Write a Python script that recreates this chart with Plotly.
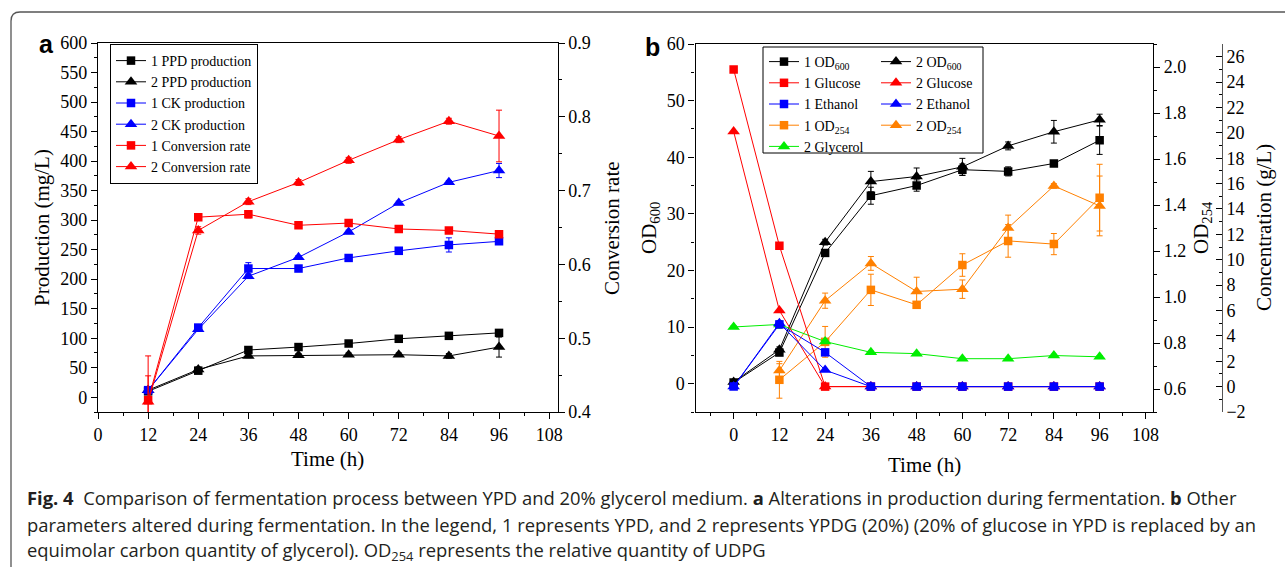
import plotly.graph_objects as go

W, H = 1285, 567

# ---------------- data: panel a ----------------
time_a = [12, 24, 36, 48, 60, 72, 84, 96]
ppd1 = [10, 45, 80, 85, 91, 99, 104, 109]
ppd1_err = [2, 3, 4, 3, 3, 3, 3, 4]
ppd2 = [12, 47, 70, 71, 72, 72, 70, 85]
ppd2_err = [2, 4, 3, 3, 3, 3, 4, 17]
ck1 = [12, 118, 218, 218, 236, 248, 258, 264]
ck1_err = [2, 4, 10, 4, 4, 4, 12, 4]
ck2 = [12, 115, 205, 237, 280, 329, 364, 384]
ck2_err = [2, 3, 4, 3, 3, 3, 3, 12]
conv1 = [0.416, 0.664, 0.668, 0.653, 0.656, 0.648, 0.646, 0.641]
conv1_err = [0.06, 0.004, 0.005, 0.004, 0.004, 0.004, 0.004, 0.004]
conv2 = [0.414, 0.646, 0.685, 0.711, 0.741, 0.769, 0.794, 0.774]
conv2_err = [0.035, 0.005, 0.004, 0.004, 0.004, 0.004, 0.004, 0.035]

# ---------------- data: panel b ----------------
time_b = [0, 12, 24, 36, 48, 60, 72, 84, 96]
od600_1 = [0.2, 5.5, 23.1, 33.2, 35.0, 37.8, 37.5, 38.9, 43.0]
od600_1_err = [0.3, 0.5, 0.5, 1.5, 1.0, 1.0, 0.8, 0.5, 2.5]
od600_2 = [0.3, 6.0, 25.0, 35.7, 36.6, 38.3, 42.0, 44.5, 46.6]
od600_2_err = [0.3, 0.5, 0.5, 1.8, 1.5, 1.5, 0.7, 2.0, 1.0]
glucose_1 = [25.0, 11.1, 0, 0, 0, 0, 0, 0, 0]
glucose_2 = [20.1, 6.0, 0, 0, 0, 0, 0, 0, 0]
ethanol_1 = [0, 4.9, 2.7, 0, 0, 0, 0, 0, 0]
ethanol_2 = [0, 5.0, 1.3, 0, 0, 0, 0, 0, 0]
glycerol_2 = [4.7, 4.9, 3.55, 2.7, 2.6, 2.2, 2.2, 2.45, 2.35]
glycerol_2_err = [0.1, 0.3, 0.1, 0.1, 0.1, 0.1, 0.1, 0.1, 0.1]
time_od254 = [12, 24, 36, 48, 60, 72, 84, 96]
od254_1 = [0.64, 0.805, 1.031, 0.966, 1.139, 1.244, 1.23, 1.432]
od254_1_err = [0.08, 0.067, 0.068, 0.01, 0.049, 0.071, 0.046, 0.145]
od254_2 = [0.68, 0.984, 1.146, 1.024, 1.034, 1.30, 1.483, 1.396]
od254_2_err = [0.03, 0.033, 0.03, 0.062, 0.04, 0.056, 0.01, 0.13]

x_ticks = [0, 12, 24, 36, 48, 60, 72, 84, 96, 108]

BLACK, RED, BLUE, ORANGE, GREEN = "#000000", "#ff0000", "#0000ff", "#ff8000", "#00ee00"
SERIF = "Liberation Serif"


def px(x):
    return x / W


def py(y):
    return 1 - y / H


def tr(x, y, name, color, symbol, xa, ya, legend, rank, err=None, size=None):
    if size is None:
        size = 8.5 if symbol == "square" else 11
    t = go.Scatter(
        x=x, y=y, name=name, mode="lines+markers",
        xaxis=xa, yaxis=ya, legend=legend, legendrank=rank,
        line=dict(color=color, width=1),
        marker=dict(symbol=symbol, color=color, size=size),
    )
    if err is not None:
        t.error_y = dict(type="data", array=err, visible=True, color=color,
                         thickness=1, width=3)
    return t


fig = go.Figure()

# panel a traces
fig.add_trace(tr(time_a, ppd1, "1 PPD production", BLACK, "square", "x", "y", "legend", 1, ppd1_err))
fig.add_trace(tr(time_a, ppd2, "2 PPD production", BLACK, "triangle-up", "x", "y", "legend", 2, ppd2_err))
fig.add_trace(tr(time_a, ck1, "1 CK production", BLUE, "square", "x", "y", "legend", 3, ck1_err))
fig.add_trace(tr(time_a, ck2, "2 CK production", BLUE, "triangle-up", "x", "y", "legend", 4, ck2_err))
fig.add_trace(tr(time_a, conv1, "1 Conversion rate", RED, "square", "x", "y2", "legend", 5, conv1_err))
fig.add_trace(tr(time_a, conv2, "2 Conversion rate", RED, "triangle-up", "x", "y2", "legend", 6, conv2_err))

# panel b traces
fig.add_trace(tr(time_b, od600_1, "1 OD<sub>600</sub>", BLACK, "square", "x2", "y3", "legend2", 1, od600_1_err))
fig.add_trace(tr(time_b, od600_2, "2 OD<sub>600</sub>", BLACK, "triangle-up", "x2", "y3", "legend3", 1, od600_2_err))
fig.add_trace(tr(time_od254, od254_1, "1 OD<sub>254</sub>", ORANGE, "square", "x2", "y4", "legend2", 4, od254_1_err))
fig.add_trace(tr(time_od254, od254_2, "2 OD<sub>254</sub>", ORANGE, "triangle-up", "x2", "y4", "legend3", 4, od254_2_err))
fig.add_trace(tr(time_b, glycerol_2, "2 Glycerol", GREEN, "triangle-up", "x2", "y5", "legend2", 5, glycerol_2_err))
fig.add_trace(tr(time_b, glucose_1, "1 Glucose", RED, "square", "x2", "y5", "legend2", 2))
fig.add_trace(tr(time_b, glucose_2, "2 Glucose", RED, "triangle-up", "x2", "y5", "legend3", 2))
fig.add_trace(tr(time_b, ethanol_1, "1 Ethanol", BLUE, "square", "x2", "y5", "legend2", 3))
fig.add_trace(tr(time_b, ethanol_2, "2 Ethanol", BLUE, "triangle-up", "x2", "y5", "legend3", 3))

tickfont = dict(family=SERIF, size=18, color="black")
common = dict(showline=True, linecolor="black", linewidth=1.3, ticks="outside",
              ticklen=6, tickwidth=1.3, tickcolor="black", showgrid=False,
              zeroline=False, tickfont=tickfont, automargin=False)
minor = lambda d: dict(dtick=d, ticks="outside", ticklen=3, tickwidth=1.2,
                       tickcolor="black", showgrid=False)

dom_ya = [py(412), py(43)]
dom_yb = [py(412), py(44)]

LEGFONT = dict(family=SERIF, size=14, color="black")

fig.update_layout(
    width=W, height=H, margin=dict(l=0, r=0, t=0, b=0, pad=0, autoexpand=False),
    paper_bgcolor="white", plot_bgcolor="white",
    font=dict(family=SERIF, size=16, color="black"),
    xaxis=dict(domain=[px(98), px(557.5)], range=[0, 110], tickvals=x_ticks,
               anchor="y", mirror=True, minor=minor(6), **common),
    yaxis=dict(domain=dom_ya, range=[-25, 600], tick0=0, dtick=50,
               anchor="x", minor=minor(25), **common),
    yaxis2=dict(overlaying="y", side="right", anchor="x", range=[0.4, 0.9],
                tick0=0, dtick=0.1, tickformat=".1f", minor=minor(0.05), **common),
    xaxis2=dict(domain=[px(695.5), px(1153)], range=[-10, 110], tickvals=x_ticks,
                anchor="y3", mirror=True, minor=minor(6), **common),
    yaxis3=dict(domain=dom_yb, range=[-5, 60], tick0=0, dtick=10,
                anchor="x2", minor=minor(5), **common),
    yaxis4=dict(overlaying="y3", side="right", anchor="x2", range=[0.5, 2.1],
                tick0=0, dtick=0.2, tickformat=".1f", minor=minor(0.1), **common),
    yaxis5=dict(overlaying="y3", side="right", anchor="free", position=px(1221.7),
                range=[-2, 27], tick0=0, dtick=2,
                **{**common, "ticks": "inside", "linecolor": "#555"},
                minor=dict(dtick=1, ticks="inside", ticklen=3, tickwidth=1.2,
                           tickcolor="black", showgrid=False)),
    legend=dict(x=px(110), y=py(44), xanchor="left", yanchor="top",
                bordercolor="black", borderwidth=1, bgcolor="white",
                font=LEGFONT, tracegroupgap=0, itemwidth=30),
    legend2=dict(x=px(764), y=py(46), xanchor="left", yanchor="top",
                 bgcolor="rgba(0,0,0,0)", font=LEGFONT, itemwidth=30),
    legend3=dict(x=px(876), y=py(46), xanchor="left", yanchor="top",
                 bgcolor="rgba(0,0,0,0)", font=LEGFONT, itemwidth=30),
    showlegend=True,
)

# legend box of panel b and outer frame
shapes = [
    dict(type="rect", xref="paper", yref="paper", x0=px(763), x1=px(983),
         y0=py(153), y1=py(47), line=dict(color="black", width=1),
         fillcolor="rgba(0,0,0,0)", layer="above"),
]
fx, fy, r = 11, 12, 9
path = (f"M {px(fx)},{py(H + 5)} L {px(fx)},{py(fy + r)} "
        f"Q {px(fx)},{py(fy)} {px(fx + r)},{py(fy)} L {px(W + 5)},{py(fy)}")
shapes.append(dict(type="path", xref="paper", yref="paper", path=path,
                   line=dict(color="#555555", width=1.3)))
fig.update_layout(shapes=shapes)

ann = []


def text(x, y, s, size=21, angle=0, family=SERIF, xanchor="center", color="black"):
    ann.append(dict(x=px(x), y=py(y), xref="paper", yref="paper", text=s,
                    showarrow=False, textangle=angle, xanchor=xanchor,
                    yanchor="middle", font=dict(family=family, size=size, color=color)))


text(42, 228, "Production (mg/L)", angle=-90)
text(612, 228, "Conversion rate", angle=-90)
text(327, 459, "Time (h)")
text(650, 228, "OD<sub>600</sub>", angle=-90)
text(1202, 228, "OD<sub>254</sub>", angle=-90)
text(1264, 228, "Concentration (g/L)", angle=-90)
text(924, 465, "Time (h)")
text(46, 44, "<b>a</b>", size=25, family="Liberation Sans")
text(652, 47, "<b>b</b>", size=25, family="Liberation Sans")

CAP = "Open Sans"
capc = "#231f20"
CS = 18.4
text(25, 497, "<b>Fig. 4</b>  Comparison of fermentation process between YPD and 20% glycerol medium. "
     "<b>a</b> Alterations in production during fermentation. <b>b</b> Other",
     size=CS, family=CAP, xanchor="left", color=capc)
text(25, 524, "parameters altered during fermentation. In the legend, 1 represents YPD, and 2 represents "
     "YPDG (20%) (20% of glucose in YPD is replaced by an",
     size=CS, family=CAP, xanchor="left", color=capc)
text(25, 551, "equimolar carbon quantity of glycerol). OD<sub>254</sub> represents the relative quantity of UDPG",
     size=CS, family=CAP, xanchor="left", color=capc)

fig.update_layout(annotations=ann)
fig.write_html("out.html", config={"displayModeBar": False},
               post_script="document.body.style.margin='0';document.body.style.overflow='hidden';")
